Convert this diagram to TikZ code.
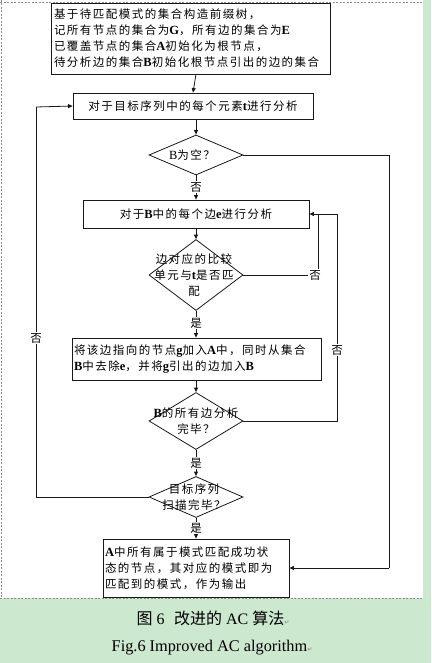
\documentclass[tikz,border=0pt]{standalone}
\usepackage{fontspec}
\setmainfont{Liberation Serif}
\newfontfamily\cjk[LetterSpace=13]{Noto Sans CJK SC}
\newfontfamily\cjkcap{Noto Sans CJK SC}
\newfontfamily\symfont{DejaVu Sans}
\usetikzlibrary{shapes.geometric,arrows.meta,shadows}
\newcommand\lb[1]{{\rmfamily\bfseries\fontsize{12.5}{16}\selectfont #1}}
\newcommand\lr[1]{{\rmfamily\fontsize{12.5}{16}\selectfont #1}}
\newcommand\lc[1]{{\rmfamily #1}}
\definecolor{pagegreen}{RGB}{204,232,207}
\definecolor{linec}{RGB}{25,25,25}
\tikzset{
  txt/.style={font=\cjk\fontsize{11.5}{16}\selectfont, text=black},
  boxbase/.style={txt, draw=linec, line width=0.8pt, fill=white, inner sep=0pt},
  shadowed/.style={drop shadow={shadow xshift=1.3pt, shadow yshift=-1.3pt, fill=black!55, opacity=1}},
  dia/.style={draw=linec, line width=0.8pt, fill=white, shape=diamond, inner sep=0pt},
  arr/.style={draw=linec, line width=0.8pt, -{Triangle[length=4.5pt,width=4pt]}},
  ln/.style={draw=linec, line width=0.8pt},
  lab/.style={txt, fill=white, inner sep=1pt},
  border/.style={draw=black!45, line width=0.6pt, dash pattern=on 2pt off 1.5pt}
}
\begin{document}
\begin{tikzpicture}[x=1pt,y=-1pt]
\useasboundingbox (0,0) rectangle (431,663);
% page background
\fill[pagegreen] (0,0) rectangle (431,663);
\fill[white] (0,0) rectangle (423,598);
\draw[border] (0,2) -- (423,2);
\draw[border] (1,0) -- (1,598);
\draw[border] (0,598) -- (423,598);

% boxes
\node[boxbase, shadowed, minimum width=279, minimum height=71, text width=273, align=left] (b1) at (190.5,38.5)
  {基于待匹配模式的集合构造前缀树，\\记所有节点的集合为\lb{G}，所有边的集合为\lb{E}\\已覆盖节点的集合\lb{A}初始化为根节点，\\待分析边的集合\lb{B}初始化根节点引出的边的集合};
\node[boxbase, minimum width=240, minimum height=26, align=center] (b2) at (193,106)
  {对于目标序列中的每个元素\lb{t}进行分析};
\node[dia, minimum width=94, minimum height=40] (d1) at (196,155) {};
\node[txt] (d1t) at (192,155) {\lr{B}为空？};
\node[boxbase, minimum width=226, minimum height=28, align=center] (b3) at (196,214)
  {对于\lb{B}中的每个边\lb{e}进行分析};
\node[dia, minimum width=94, minimum height=71] (d2) at (196,275) {};
\node[txt, align=center] (d2t) at (194,275) {边对应的比较\\单元与\lb{t}是否匹\\配};
\node[boxbase, shadowed, minimum width=249, minimum height=42, text width=245, align=left] (b4) at (196.5,359)
  {将该边指向的节点\lb{g}加入\lb{A}中，同时从集合\\\lb{B}中去除\lb{e}，并将\lb{g}引出的边加入\lb{B}};
\node[dia, minimum width=94, minimum height=57] (d3) at (196,421) {};
\node[txt, align=center] (d3t) at (196,421) {\lb{B}的所有边分析\\完毕？};
\node[dia, minimum width=94, minimum height=41] (d4) at (196,497) {};
\node[txt, align=center] (d4t) at (194,497) {目标序列\\扫描完毕？};
\node[boxbase, shadowed, minimum width=186, minimum height=58, text width=182, align=left] (out) at (196,568)
  {\lb{A}中所有属于模式匹配成功状\\态的节点，其对应的模式即为\\匹配到的模式，作为输出};

% coordinates
\coordinate (t1) at (196,74);
\coordinate (r1) at (389,155);
\coordinate (r1b) at (389,568);
\coordinate (r2) at (318,275);
\coordinate (r2b) at (318,214);
\coordinate (r3) at (337,421);
\coordinate (r3b) at (337,214);
\coordinate (l1) at (36,497);
\coordinate (l1b) at (36,107);

% connectors
\draw[arr] (t1) -- (b2.south |- b2.north) ;
\draw[arr] (b2.south -| d1.north) -- (d1.north);
\draw[arr] (d1.south) -- (b3.north -| d1.south);
\draw[ln] (d1.east) -- (r1) -- (r1b);
\draw[arr] (r1b) -- (out.east);
\draw[arr] (b3.south -| d2.north) -- (d2.north);
\draw[ln] (d2.east) -- (r2) -- (r2b);
\draw[arr] (r2b) -- (b3.east);
\draw[arr] (d2.south) -- (b4.north -| d2.south);
\draw[arr] (b4.south -| d3.north) -- (d3.north);
\draw[ln] (d3.east) -- (r3) -- (r3b) -- (r2b);
\draw[arr] (d3.south) -- (d4.north);
\draw[ln] (d4.west) -- (l1) -- (l1b);
\draw[arr] (l1b) -- (b2.west);
\draw[arr] (d4.south) -- (out.north -| d4.south);

% branch labels
\node[lab] (n1) at (196,187) {否};
\node[lab] (n2) at (315,275) {否};
\node[lab] (y1) at (196,323) {是};
\node[lab] (n3) at (337,350) {否};
\node[lab] (y2) at (196,463) {是};
\node[lab] (n4) at (36,338) {否};
\node[lab] (y3) at (196,528) {是};

% caption
\node[inner sep=0pt, text=black] (cap1) at (213,618)
  {\cjkcap\fontsize{16}{18}\selectfont 图\lc{ 6}\hspace{0.6em}改进的\lc{ AC }算法{\symfont\color{black!50}\fontsize{6}{8}\selectfont ↵}};
\node[inner sep=0pt, text=black] (cap2) at (212,648)
  {\fontsize{16.3}{18}\selectfont Fig.6 Improved AC algorithm{\symfont\color{black!50}\fontsize{6}{8}\selectfont ↵}};
\end{tikzpicture}
\end{document}
